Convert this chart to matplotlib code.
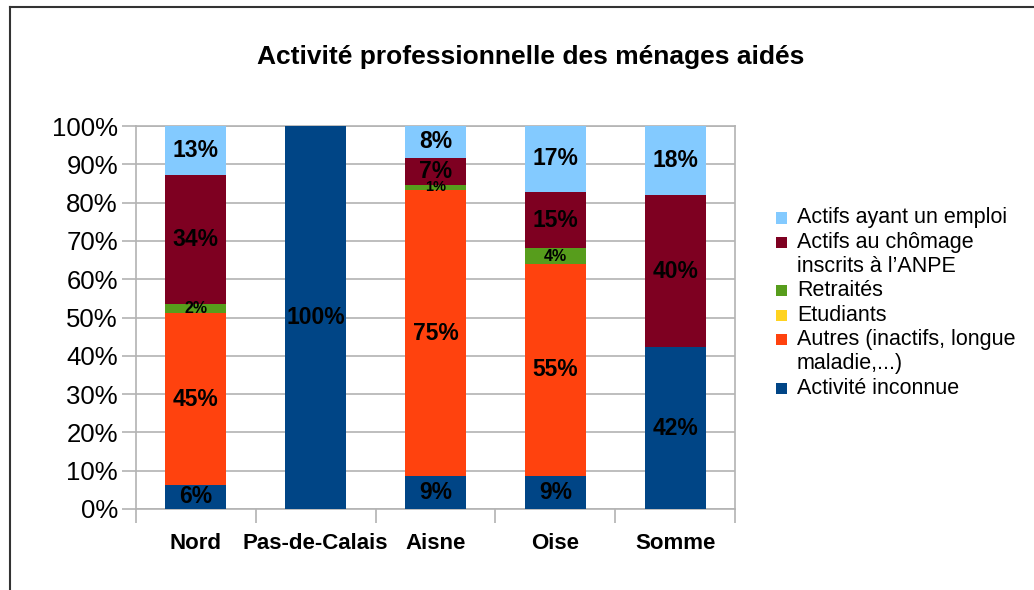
import numpy as np
import matplotlib
matplotlib.use("Agg")
import matplotlib.pyplot as plt
from matplotlib.lines import Line2D
from matplotlib.patches import Rectangle

plt.rcParams['font.family'] = ['Liberation Sans', 'DejaVu Sans']

regions = ['Nord', 'Pas-de-Calais', 'Aisne', 'Oise', 'Somme']

# stacked bottom -> top (percent)
inconnue = [6.3, 100.0, 8.6, 8.7, 42.2]
autres = [44.8, 0.0, 74.6, 55.2, 0.0]
etudiants = [0.0, 0.0, 0.2, 0.0, 0.0]
retraites = [2.4, 0.0, 1.3, 4.2, 0.0]
chomage = [33.7, 0.0, 7.0, 14.7, 39.8]
emploi = [12.8, 0.0, 8.3, 17.2, 18.0]

series = [
    ('Activité inconnue', inconnue, '#004586'),
    ('Autres (inactifs, longue\nmaladie,...)', autres, '#ff420e'),
    ('Etudiants', etudiants, '#ffd320'),
    ('Retraités', retraites, '#579d1c'),
    ('Actifs au chômage\ninscrits à l\u2019ANPE', chomage, '#7e0021'),
    ('Actifs ayant un emploi', emploi, '#83caff'),
]

W, H = 1034, 590
fig = plt.figure(figsize=(W / 100, H / 100), dpi=100)
ax = fig.add_axes([136 / W, 1 - 509 / H, (735 - 136) / W, (509 - 126) / H])

x = np.arange(len(regions))
bottom = np.zeros(len(regions))
for name, vals, col in series:
    vals = np.array(vals)
    ax.bar(x, vals, 0.51, bottom=bottom, color=col, zorder=3)
    for xi, b, v in zip(x, bottom, vals):
        if v < 0.5:
            continue
        if v >= 5:
            fs = 16.5
        elif v >= 2:
            fs = 11.5
        else:
            fs = 10.5
        ax.text(xi, b + v / 2, '%d%%' % round(v), ha='center', va='center',
                fontsize=fs, fontweight='bold', color='black', zorder=4)
    bottom += vals

ax.set_xlim(-0.5, len(regions) - 0.5)
ax.set_ylim(0, 100)
ax.set_yticks(np.arange(0, 101, 10))
ax.set_yticklabels(['%d%%' % v for v in range(0, 101, 10)], fontsize=18.5)
ax.yaxis.grid(True, color='#b3b3b3', linewidth=1.2, zorder=0)
ax.tick_params(axis='y', length=10, color='#b3b3b3', width=1.2, pad=3)

ax.set_xticks(x)
ax.set_xticklabels(regions, fontsize=16, fontweight='bold')
ax.tick_params(axis='x', length=0, pad=17)
ax.set_xticks(np.arange(-0.5, len(regions), 1.0), minor=True)
ax.tick_params(axis='x', which='minor', length=10, color='#b3b3b3', width=1.2)

for s in ax.spines.values():
    s.set_color('#b3b3b3')
    s.set_linewidth(1.2)

fig.text(531 / W, 1 - 57 / H, 'Activité professionnelle des ménages aidés',
         ha='center', va='center', fontsize=19, fontweight='bold')

# legend drawn by hand: square beside the first line of each entry
line_y = 218
step = 24.3
for name, _, col in series[::-1]:
    fig.add_artist(Rectangle((776 / W, 1 - (line_y + 5.5) / H), 11 / W, 11 / H,
                             transform=fig.transFigure, facecolor=col, edgecolor='none'))
    for part in name.split('\n'):
        fig.text(797 / W, 1 - line_y / H, part, ha='left', va='center', fontsize=15.5)
        line_y += step

# outer chart frame (cropped)
fig.add_artist(Line2D([9.5 / W, 9.5 / W], [0, 1 - 7 / H], color='#333333', linewidth=1.5))
fig.add_artist(Line2D([9.5 / W, 1], [1 - 7 / H, 1 - 7 / H], color='#333333', linewidth=1.5))

fig.savefig('out.png', dpi=100)
